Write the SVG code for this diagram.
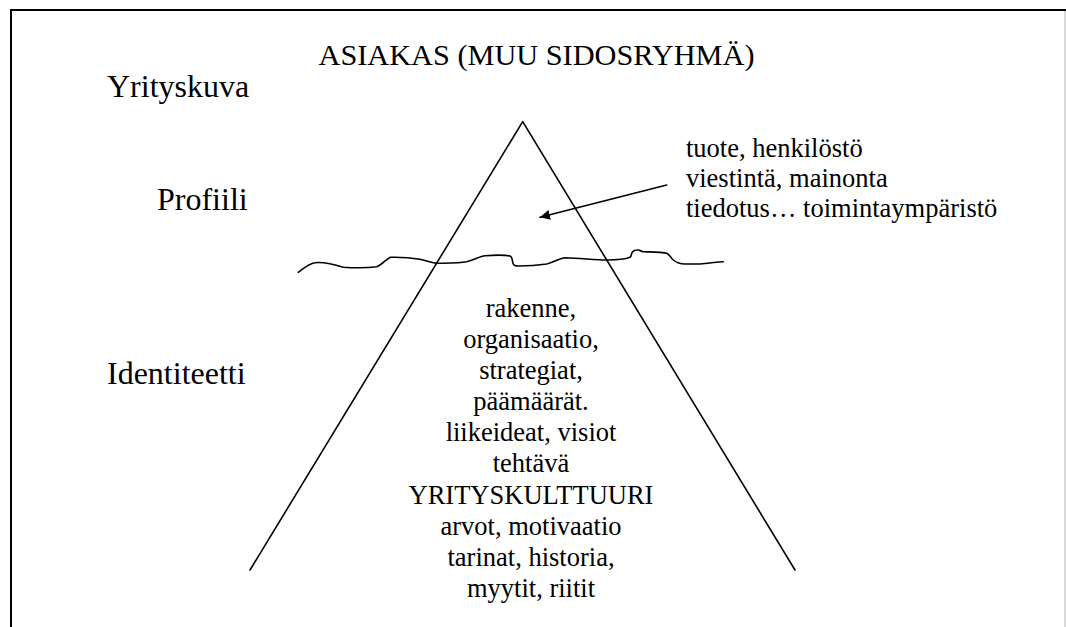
<svg xmlns="http://www.w3.org/2000/svg" width="1066" height="627" viewBox="0 0 1066 627">
<defs>
<style>
text{font-family:"Liberation Serif","Times New Roman",serif;fill:#000}
.lbl{font-size:32px}
.ttl{font-size:30.3px}
.sm{font-size:26.5px}
.ln{fill:none;stroke:#000;stroke-width:1.6;stroke-linecap:round;stroke-linejoin:round}
</style>
<marker id="ah" viewBox="0 0 10 10" refX="10" refY="5" markerWidth="10" markerHeight="10" markerUnits="userSpaceOnUse" orient="auto">
<path d="M0,0 L10,5 L0,10 Z" fill="#000"/>
</marker>
</defs>
<rect x="0" y="0" width="1066" height="627" fill="#fff"/>
<g id="frame">
<line x1="11" y1="10" x2="1066" y2="10" stroke="#000" stroke-width="2"/>
<line x1="11" y1="9" x2="11" y2="627" stroke="#000" stroke-width="2"/>
<line x1="1065" y1="11" x2="1065" y2="627" stroke="#ccc" stroke-width="1.5"/>
</g>
<g id="title"><text class="ttl" x="536.5" y="65" text-anchor="middle">ASIAKAS (MUU SIDOSRYHMÄ)</text></g>
<g id="yrityskuva"><text class="lbl" x="107" y="97">Yrityskuva</text></g>
<g id="profiili"><text class="lbl" x="157" y="210">Profiili</text></g>
<g id="identiteetti"><text class="lbl" x="107" y="384">Identiteetti</text></g>
<g id="iceberg">
<polyline class="ln" points="250,570 522.7,121.7 795,570"/>
<path class="ln" d="M298.3,272.3 C305,267 310,263 315,262.7 C322,262 330,263 343.3,267.3 C355,268 368,268 376.7,266.7 C382,265 386,259 390.7,257.3 C402,257 412,258 420,259.3 C428,261 432,263 436.7,263.3 C450,263 460,263 466.7,261.7 C474,260 480,256 485,255.7 C495,255 505,255 510,256 C513,257 512,262 513.3,264 C514,266 516,266 518.3,266 C530,266 540,265 546.7,264 C555,262 560,258 565,257.7 C580,258 595,260 606.7,260 C618,260 626,259 630,257.3 C632,256 631,253 632.7,251.7 C634,250 636,250 638.3,250 C640,250 641,251.5 643.3,251.7 C652,252 662,252 666.7,253.3 C670,255 671,258 673.3,260 C677,263 681,264 685,264 C690,264 695,264 700,264 C708,263 716,262 723.3,261.7"/>
</g>
<g id="profile-text">
<text class="sm" x="686" y="157">tuote, henkilöstö</text>
<text class="sm" x="686" y="187">viestintä, mainonta</text>
<text class="sm" x="686" y="217">tiedotus… toimintaympäristö</text>
</g>
<g id="connectors">
<line class="ln" x1="666.7" y1="185" x2="540" y2="217.3" marker-end="url(#ah)"/>
</g>
<g id="identity-text" class="sm" text-anchor="middle">
<text x="531" y="317">rakenne,</text>
<text x="531" y="348">organisaatio,</text>
<text x="531" y="379">strategiat,</text>
<text x="531" y="410">päämäärät.</text>
<text x="531" y="441">liikeideat, visiot</text>
<text x="531" y="472">tehtävä</text>
<text x="531" y="504">YRITYSKULTTUURI</text>
<text x="531" y="535">arvot, motivaatio</text>
<text x="531" y="566">tarinat, historia,</text>
<text x="531" y="597">myytit, riitit</text>
</g>
</svg>
